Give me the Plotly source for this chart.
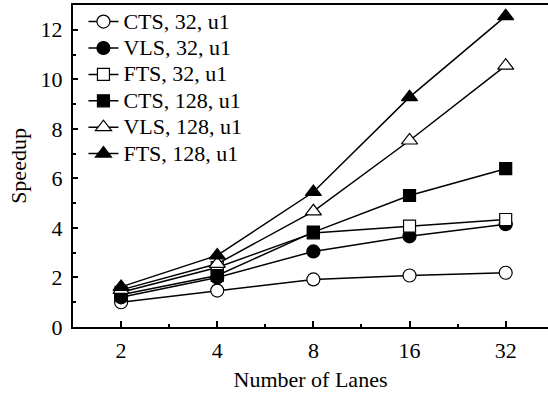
import plotly.graph_objects as go
import math

lanes = [2, 4, 8, 16, 32]
series_names = ["CTS, 32, u1", "VLS, 32, u1", "FTS, 32, u1",
                "CTS, 128, u1", "VLS, 128, u1", "FTS, 128, u1"]
cts_32 = [1.0, 1.47, 1.92, 2.08, 2.19]
vls_32 = [1.2, 2.0, 3.05, 3.66, 4.15]
fts_32 = [1.4, 2.4, 3.8, 4.07, 4.34]
cts_128 = [1.3, 2.08, 3.83, 5.31, 6.39]
vls_128 = [1.5, 2.55, 4.67, 7.53, 10.55]
fts_128 = [1.62, 2.89, 5.45, 9.28, 12.55]

all_values = [cts_32, vls_32, fts_32, cts_128, vls_128, fts_128]
symbols = ["circle-open", "circle", "square-open", "square", "triangle-up-open", "triangle-up"]
sizes = [13, 13, 12, 12, 14, 14]

FONT = "Liberation Serif, Times New Roman, serif"

fig = go.Figure()
for name, vals, sym, sz in zip(series_names, all_values, symbols, sizes):
    base = sym.replace("-open", "")
    filled = not sym.endswith("-open")
    fig.add_trace(go.Scatter(
        x=lanes, y=vals,
        name='<span style="font-size:22px">' + name + '</span>',
        mode="lines+markers",
        line=dict(color="black", width=1.5),
        marker=dict(symbol=base, size=sz,
                    color="black" if filled else "white",
                    line=dict(color="black", width=1.2)),
    ))

fig.update_layout(
    width=548, height=400,
    margin=dict(l=73, r=0, t=5, b=73),
    paper_bgcolor="white", plot_bgcolor="white",
    font=dict(family=FONT, size=22, color="black"),
    showlegend=True,
    legend=dict(x=0.022, y=1.005, xanchor="left", yanchor="top",
                bgcolor="rgba(0,0,0,0)", borderwidth=0,
                font=dict(family=FONT, size=18), itemwidth=30,
                tracegroupgap=0),
)

fig.update_xaxes(
    type="log",
    range=[0.5 * math.log10(2), 5.44 * math.log10(2)],
    tickmode="array", tickvals=lanes, ticktext=[str(v) for v in lanes],
    ticks="inside", ticklen=6, tickwidth=1.5, tickcolor="black",
    showline=True, linecolor="black", linewidth=2, mirror=True,
    showgrid=False, zeroline=False,
    minor=dict(tickmode="array", tickvals=[2 * math.sqrt(2), 4 * math.sqrt(2), 8 * math.sqrt(2), 16 * math.sqrt(2)],
               ticks="inside", ticklen=3, tickwidth=1.5, tickcolor="black", showgrid=False),
    title=dict(text="Number of Lanes", font=dict(family=FONT, size=22), standoff=9),
    tickfont=dict(family=FONT, size=22),
    ticklabelstandoff=3,
)
fig.update_yaxes(
    range=[0, 13],
    tickmode="array", tickvals=[0, 2, 4, 6, 8, 10, 12],
    ticks="inside", ticklen=5, tickwidth=1.5, tickcolor="black",
    showline=True, linecolor="black", linewidth=2, mirror=False,
    showgrid=False, zeroline=False,
    minor=dict(tickmode="array", tickvals=[1, 3, 5, 7, 9, 11],
               ticks="inside", ticklen=3, tickwidth=1.5, tickcolor="black", showgrid=False),
    title=dict(text="Speedup", font=dict(family=FONT, size=22), standoff=8),
    tickfont=dict(family=FONT, size=22),
    ticklabelstandoff=4,
)

fig.write_html("out.html")
